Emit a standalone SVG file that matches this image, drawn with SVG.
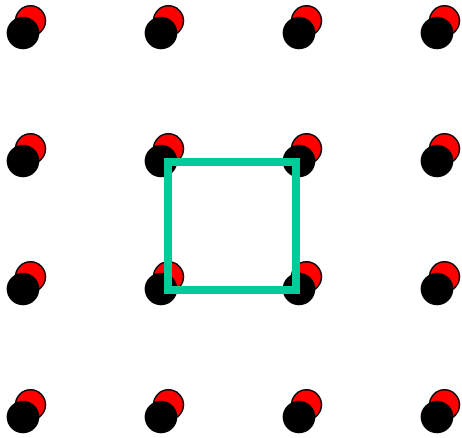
<svg xmlns="http://www.w3.org/2000/svg" width="462" height="438" viewBox="0 0 462 438">
<defs>
<style>
.r{fill:#ff0000;stroke:#000;stroke-width:1.5}
.b{fill:#000;stroke:#000;stroke-width:1.5}
.sq{fill:none;stroke:#00cc99;stroke-width:8}
</style>
<g id="dot"><circle class="r" cx="7.5" cy="-12.2" r="15"/><circle class="b" cx="0" cy="0" r="15.6"/></g>
</defs>
<g id="n00"><use href="#dot" x="23" y="33"/></g>
<g id="n10"><use href="#dot" x="161" y="33"/></g>
<g id="n20"><use href="#dot" x="299" y="33"/></g>
<g id="n30"><use href="#dot" x="437" y="33"/></g>
<g id="n01"><use href="#dot" x="23" y="161"/></g>
<g id="n11"><use href="#dot" x="161" y="161"/></g>
<g id="n21"><use href="#dot" x="299" y="161"/></g>
<g id="n31"><use href="#dot" x="437" y="161"/></g>
<g id="n02"><use href="#dot" x="23" y="289"/></g>
<g id="n12"><use href="#dot" x="161" y="289"/></g>
<g id="n22"><use href="#dot" x="299" y="289"/></g>
<g id="n32"><use href="#dot" x="437" y="289"/></g>
<g id="n03"><use href="#dot" x="23" y="417"/></g>
<g id="n13"><use href="#dot" x="161" y="417"/></g>
<g id="n23"><use href="#dot" x="299" y="417"/></g>
<g id="n33"><use href="#dot" x="437" y="417"/></g>
<g id="square"><rect class="sq" x="168" y="162" width="128" height="128"/></g>
</svg>
